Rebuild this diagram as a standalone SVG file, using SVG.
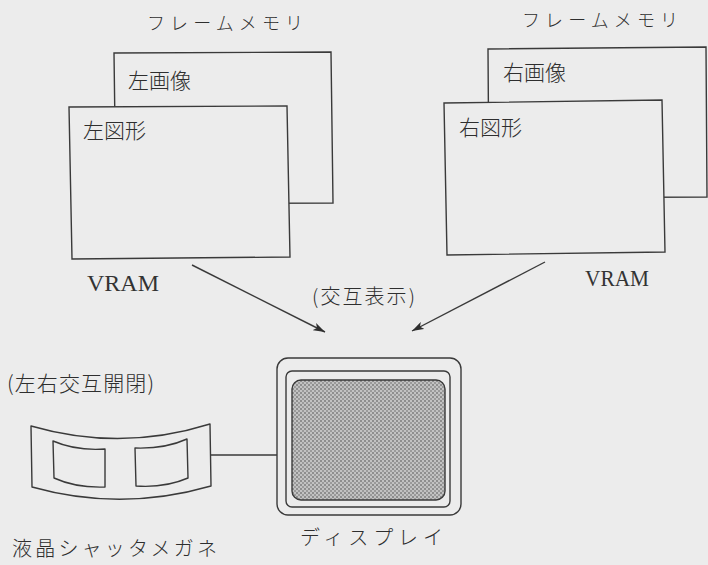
<svg xmlns="http://www.w3.org/2000/svg" width="708" height="565" viewBox="0 0 708 565">
  <defs>
    <style>
      .ln { fill: none; stroke: #3a3a3a; stroke-width: 1.4; stroke-linejoin: round; }
      .pg { fill: #ececec; stroke: #3a3a3a; stroke-width: 1.4; }
      .jp { font-family: "Noto Sans CJK JP", "Noto Sans", sans-serif; font-weight: 300; fill: #2e2e2e; }
      .lat { font-family: "Liberation Serif", "DejaVu Serif", serif; fill: #333333; }
    </style>
    <pattern id="dots" width="4" height="4" patternUnits="userSpaceOnUse">
      <rect width="4" height="4" fill="#c2c2c2"/>
      <rect x="0" y="0" width="2" height="2" fill="#8e8e8e"/>
      <rect x="2" y="2" width="2" height="2" fill="#9a9a9a"/>
    </pattern>
    <marker id="arr" viewBox="0 0 12 8" refX="12" refY="4" markerWidth="12" markerHeight="8" markerUnits="userSpaceOnUse" orient="auto">
      <path d="M0,0 L12,4 L0,8 L3,4 Z" fill="#2e2e2e"/>
    </marker>
  </defs>

  <rect width="708" height="565" fill="#ececec"/>

  <!-- left frame memory: image plane behind, graphics plane in front -->
  <g id="left-memory">
    <text class="jp" x="147" y="30" font-size="18" textLength="156" lengthAdjust="spacing">フレームメモリ</text>
    <path class="pg" d="M114,53 L331,52 L333,203 L116,204 Z"/>
    <text class="jp" x="128" y="88" font-size="21">左画像</text>
    <path class="pg" d="M69,107 L287,106 L290,257 L72,259 Z"/>
    <text class="jp" x="83" y="138" font-size="21">左図形</text>
    <text class="lat" x="87" y="291" font-size="23" textLength="72" lengthAdjust="spacingAndGlyphs">VRAM</text>
  </g>

  <!-- right frame memory -->
  <g id="right-memory">
    <text class="jp" x="522" y="27" font-size="18" textLength="156" lengthAdjust="spacing">フレームメモリ</text>
    <path class="pg" d="M488,49 L706,47 L707,197 L489,198 Z"/>
    <text class="jp" x="503" y="80" font-size="21">右画像</text>
    <path class="pg" d="M444,103 L662,100 L665,252 L447,255 Z"/>
    <text class="jp" x="459" y="135" font-size="21">右図形</text>
    <text class="lat" x="585" y="286" font-size="23" textLength="64" lengthAdjust="spacingAndGlyphs">VRAM</text>
  </g>

  <!-- display -->
  <g id="display">
    <rect class="ln" x="277" y="358" width="184" height="157" rx="11"/>
    <rect class="ln" x="286" y="371" width="164" height="136" rx="6"/>
    <rect x="292" y="380" width="153" height="120" rx="9" fill="url(#dots)" stroke="#3a3a3a" stroke-width="1.4"/>
    <text class="jp" x="300" y="545" font-size="20" textLength="143" lengthAdjust="spacing">ディスプレイ</text>
  </g>

  <!-- liquid crystal shutter glasses -->
  <g id="glasses">
    <text class="jp" x="7" y="391" font-size="21" textLength="147" lengthAdjust="spacing">(左右交互開閉)</text>
    <path class="ln" d="M31,426 Q121,452 210,424 L211,486 Q121,512 32,487 Z"/>
    <path class="ln" d="M53,441 Q76,451 105,449 L105,487 Q76,488 54,478 Z"/>
    <path class="ln" d="M135,448 Q165,449 187,439 L188,478 Q165,488 136,486 Z"/>
    <text class="jp" x="12" y="556" font-size="20" textLength="205" lengthAdjust="spacing">液晶シャッタメガネ</text>
  </g>

  <!-- connectors -->
  <g id="connectors">
    <line class="ln" x1="192" y1="265" x2="325" y2="332" marker-end="url(#arr)"/>
    <line class="ln" x1="545" y1="262" x2="412" y2="331" marker-end="url(#arr)"/>
    <line class="ln" x1="211" y1="455" x2="277" y2="455"/>
    <text class="jp" x="312" y="304" font-size="20" textLength="103" lengthAdjust="spacing">(交互表示)</text>
  </g>
</svg>
